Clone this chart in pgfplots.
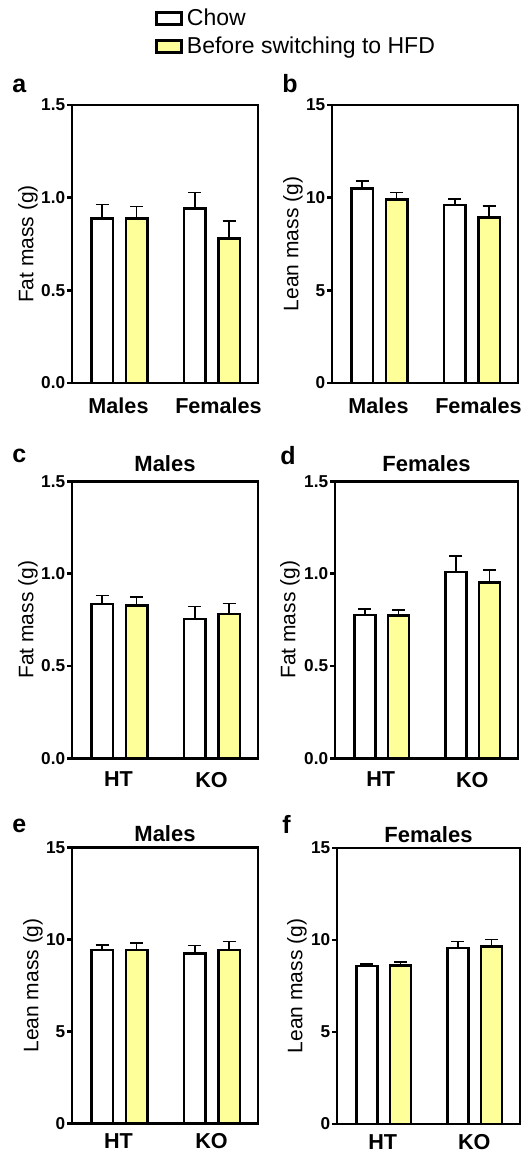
\documentclass[border=0pt]{standalone}
\usepackage{fontspec}
\setmainfont{Liberation Sans}
\usepackage{pgfplots}
\pgfplotsset{compat=1.18}
\definecolor{hfdyellow}{HTML}{FFFF99}
\pgfplotsset{
  panel/.style={
    scale only axis,
    xmin=-0.5, xmax=1.5, ymin=0,
    xtick={0,1}, major x tick style={draw=none},
    ytick pos=left, tick align=outside, major tick length=2.5pt,
    axis line style={line width=1.2pt},
    major y tick style={line width=1.2pt, black},
    xticklabel style={font=\bfseries\fontsize{10.8}{12}\selectfont, yshift=-1.5pt},
    yticklabel style={font=\bfseries\fontsize{8.6}{10}\selectfont, xshift=2.6pt},
    ylabel style={font=\fontsize{10.5}{12}\selectfont, anchor=center},
    title style={font=\bfseries\fontsize{11}{13}\selectfont, at={(0.5,1)}, anchor=base},
  },
  fatax/.style={ymax=1.5, ytick={0,0.5,1,1.5}, yticklabels={0.0,0.5,1.0,1.5}, ylabel={Fat mass (g)}},
  leanax/.style={ymax=15, ytick={0,5,10,15}, yticklabels={0,5,10,15}, ylabel={Lean mass (g)}},
  chowbar/.style={ybar, bar width=0.23, bar shift=0pt, fill=white, draw=black, line width=1.3pt, forget plot,
    error bars/.cd, y dir=plus, y explicit,
    error bar style={line width=0.8pt, black},
    error mark options={rotate=90, line width=0.8pt, mark size=3.25pt, black}},
  hfdbar/.style={ybar, bar width=0.23, bar shift=0pt, fill=hfdyellow, draw=black, line width=1.3pt, forget plot,
    error bars/.cd, y dir=plus, y explicit,
    error bar style={line width=0.8pt, black},
    error mark options={rotate=90, line width=0.8pt, mark size=3.25pt, black}},
}
\begin{document}
\begin{tikzpicture}
% ---- panel a ----
\begin{axis}[panel, fatax, at={(36pt,-191.5pt)}, anchor=south west, width=93pt, height=139pt,
  xticklabels={Males,\hspace*{7pt}Females},
  ylabel style={at={(axis description cs:-0.2366,0.5)}},
  legend style={at={(0.446,1.362)}, anchor=north west, draw=none, fill=none,
    font=\fontsize{11.5}{13}\selectfont, inner sep=0pt, row sep=0pt},
  legend cell align=left]
\addplot[chowbar] coordinates {(-0.175,0.887) +- (0,0.076) (0.82,0.943) +- (0,0.085)};
\addplot[hfdbar] coordinates {(0.195,0.887) +- (0,0.065) (1.19,0.780) +- (0,0.093)};
\addlegendimage{legend image code/.code={\draw[fill=white,draw=black,line width=1.3pt] (0pt,-3pt) rectangle (12.5pt,3pt);}}
\addlegendentry{Chow}
\addlegendimage{legend image code/.code={\draw[fill=hfdyellow,draw=black,line width=1.3pt] (0pt,-3pt) rectangle (12.5pt,3pt);}}
\addlegendentry{Before switching to HFD}
\end{axis}
% ---- panel b ----
\begin{axis}[panel, leanax, at={(166pt,-191.5pt)}, anchor=south west, width=93pt, height=139pt,
  xticklabels={Males,\hspace*{7pt}Females},
  ylabel style={at={(axis description cs:-0.21,0.5)}}]
\addplot[chowbar] coordinates {(-0.175,10.49) +- (0,0.41) (0.82,9.60) +- (0,0.32)};
\addplot[hfdbar] coordinates {(0.195,9.91) +- (0,0.36) (1.19,8.94) +- (0,0.60)};
\end{axis}
% ---- panel c ----
\begin{axis}[panel, fatax, at={(36pt,-379.15pt)}, anchor=south west, width=93pt, height=138.5pt,
  xticklabels={HT,KO}, title={Males}, title style={yshift=-1pt},
  xticklabel style={yshift=0.7pt},
  ylabel style={at={(axis description cs:-0.2366,0.5)}}]
\addplot[chowbar] coordinates {(-0.175,0.835) +- (0,0.047) (0.82,0.754) +- (0,0.068)};
\addplot[hfdbar] coordinates {(0.195,0.828) +- (0,0.045) (1.19,0.781) +- (0,0.057)};
\end{axis}
% ---- panel d ----
\begin{axis}[panel, fatax, at={(167.5pt,-379.15pt)}, anchor=south west, width=91.5pt, height=138.5pt,
  xticklabels={HT,KO}, title={Females}, title style={yshift=-1pt},
  xticklabel style={yshift=0.7pt},
  ylabel style={at={(axis description cs:-0.246,0.5)}}]
\addplot[chowbar] coordinates {(-0.175,0.775) +- (0,0.033) (0.82,1.009) +- (0,0.088)};
\addplot[hfdbar] coordinates {(0.195,0.773) +- (0,0.030) (1.19,0.952) +- (0,0.069)};
\end{axis}
% ---- panel e ----
\begin{axis}[panel, leanax, at={(36pt,-561.7pt)}, anchor=south west, width=93pt, height=138pt,
  xticklabels={HT,KO}, title={Males}, title style={yshift=-3pt},
  xticklabel style={yshift=2.4pt},
  ylabel style={at={(axis description cs:-0.21,0.5)}}]
\addplot[chowbar] coordinates {(-0.175,9.42) +- (0,0.29) (0.82,9.23) +- (0,0.44)};
\addplot[hfdbar] coordinates {(0.195,9.43) +- (0,0.37) (1.19,9.42) +- (0,0.47)};
\end{axis}
% ---- panel f ----
\begin{axis}[panel, leanax, at={(168.5pt,-562pt)}, anchor=south west, width=91.5pt, height=138pt,
  xticklabels={HT,KO}, title={Females}, title style={yshift=-3pt},
  xticklabel style={yshift=2.4pt},
  ylabel style={at={(axis description cs:-0.219,0.5)}}]
\addplot[chowbar] coordinates {(-0.175,8.59) +- (0,0.10) (0.82,9.57) +- (0,0.36)};
\addplot[hfdbar] coordinates {(0.195,8.60) +- (0,0.20) (1.19,9.66) +- (0,0.37)};
\end{axis}
% panel letters
\begin{scope}[every node/.style={anchor=base west, font=\bfseries\fontsize{12.5}{14}\selectfont, inner sep=0pt}]
\node at (6pt,-46pt) {a};
\node at (141pt,-46pt) {b};
\node at (6pt,-231pt) {c};
\node at (140pt,-232pt) {d};
\node at (6pt,-416pt) {e};
\node at (141pt,-416.5pt) {f};
\end{scope}
\pgfresetboundingbox
\path[use as bounding box] (0pt,0pt) rectangle (261pt,-576.5pt);
\end{tikzpicture}
\end{document}
